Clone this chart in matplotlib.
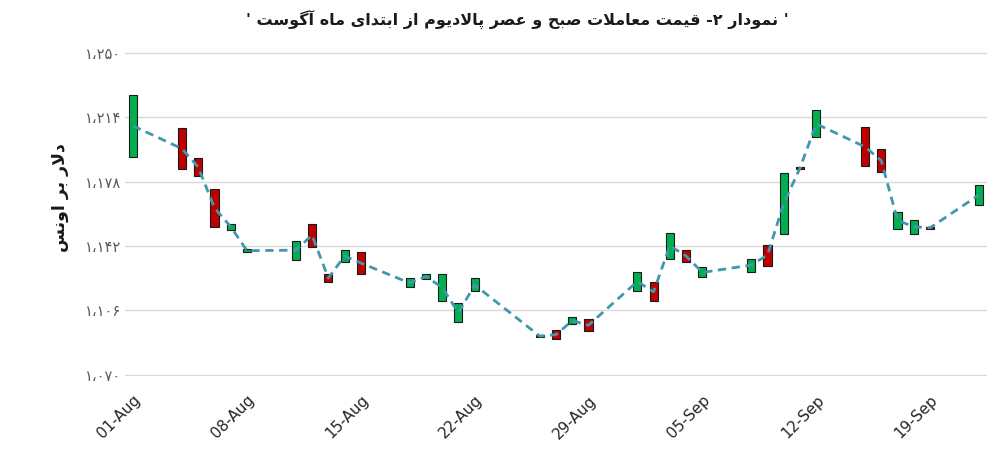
import matplotlib
matplotlib.use("Agg")
import matplotlib.pyplot as plt
import matplotlib.dates as mdates
import pandas as pd

# ---------------- data ----------------
dates = ["2014-08-01", "2014-08-04", "2014-08-05", "2014-08-06", "2014-08-07", "2014-08-08",
         "2014-08-11", "2014-08-12", "2014-08-13", "2014-08-14", "2014-08-15",
         "2014-08-18", "2014-08-19", "2014-08-20", "2014-08-21", "2014-08-22",
         "2014-08-26", "2014-08-27", "2014-08-28", "2014-08-29",
         "2014-09-01", "2014-09-02", "2014-09-03", "2014-09-04", "2014-09-05",
         "2014-09-08", "2014-09-09", "2014-09-10", "2014-09-11", "2014-09-12",
         "2014-09-15", "2014-09-16", "2014-09-17", "2014-09-18", "2014-09-19",
         "2014-09-22"]
morning = [1191.7, 1207.9, 1191.2, 1173.9, 1151.1, 1138.6,
           1134.4, 1154.5, 1126.6, 1132.8, 1138.9,
           1118.8, 1123.3, 1111.1, 1099.4, 1116.6,
           1092.0, 1094.9, 1098.3, 1101.0,
           1116.6, 1121.6, 1135.0, 1140.0, 1124.4,
           1127.7, 1142.8, 1148.9, 1186.2, 1202.9,
           1208.4, 1196.2, 1151.7, 1148.9, 1152.6,
           1165.0]
evening = [1226.8, 1185.1, 1181.2, 1152.8, 1154.5, 1140.2,
           1145.0, 1141.7, 1121.6, 1140.0, 1126.1,
           1123.9, 1126.6, 1126.6, 1109.9, 1123.9,
           1091.2, 1089.9, 1102.1, 1094.4,
           1127.7, 1111.1, 1149.4, 1132.8, 1130.0,
           1135.0, 1131.1, 1182.8, 1185.0, 1217.9,
           1186.7, 1183.4, 1161.1, 1156.7, 1151.8,
           1176.2]
y_ticks = [1070, 1106, 1142, 1178, 1214, 1250]
y_tick_labels = ["۱،۰۷۰", "۱،۱۰۶", "۱،۱۴۲", "۱،۱۷۸", "۱،۲۱۴", "۱،۲۵۰"]
x_tick_dates = ["2014-08-01", "2014-08-08", "2014-08-15", "2014-08-22",
                "2014-08-29", "2014-09-05", "2014-09-12", "2014-09-19"]

title_text = "' نمودار ۲- قیمت معاملات صبح و عصر پالادیوم از ابتدای ماه آگوست '"
ylabel_text = "دلار بر اونس"

# ---------------- persian shaping (matplotlib has no RTL support) ----------------
FORMS = {  # isolated, final, initial, medial
    "ا": ("\uFE8D", "\uFE8E", None, None),
    "آ": ("\uFE81", "\uFE82", None, None),
    "د": ("\uFEA9", "\uFEAA", None, None),
    "ر": ("\uFEAD", "\uFEAE", None, None),
    "ز": ("\uFEAF", "\uFEB0", None, None),
    "و": ("\uFEED", "\uFEEE", None, None),
    "ب": ("\uFE8F", "\uFE90", "\uFE91", "\uFE92"),
    "ت": ("\uFE95", "\uFE96", "\uFE97", "\uFE98"),
    "ح": ("\uFEA1", "\uFEA2", "\uFEA3", "\uFEA4"),
    "س": ("\uFEB1", "\uFEB2", "\uFEB3", "\uFEB4"),
    "ص": ("\uFEB9", "\uFEBA", "\uFEBB", "\uFEBC"),
    "ع": ("\uFEC9", "\uFECA", "\uFECB", "\uFECC"),
    "ق": ("\uFED5", "\uFED6", "\uFED7", "\uFED8"),
    "ل": ("\uFEDD", "\uFEDE", "\uFEDF", "\uFEE0"),
    "م": ("\uFEE1", "\uFEE2", "\uFEE3", "\uFEE4"),
    "ن": ("\uFEE5", "\uFEE6", "\uFEE7", "\uFEE8"),
    "ه": ("\uFEE9", "\uFEEA", "\uFEEB", "\uFEEC"),
    "ی": ("\uFBFC", "\uFBFD", "\uFBFE", "\uFBFF"),
    "پ": ("\uFB56", "\uFB57", "\uFB58", "\uFB59"),
    "گ": ("\uFB92", "\uFB93", "\uFB94", "\uFB95"),
}


def dual(c):
    return c in FORMS and FORMS[c][2] is not None


def shape_rtl(text):
    out = []
    i = 0
    while i < len(text):
        c = text[i]
        prev = text[i - 1] if i > 0 else ""
        nxt = text[i + 1] if i + 1 < len(text) else ""
        if c not in FORMS:
            out.append(c)
            i += 1
            continue
        joins_prev = dual(prev)
        if c == "ل" and nxt == "ا":
            out.append("\uFEFC" if joins_prev else "\uFEFB")
            i += 2
            continue
        joins_next = dual(c) and nxt in FORMS
        iso, fin, ini, med = FORMS[c]
        if joins_prev and joins_next:
            out.append(med)
        elif joins_prev:
            out.append(fin)
        elif joins_next:
            out.append(ini)
        else:
            out.append(iso)
        i += 1
    return "".join(out)[::-1]


# ---------------- plot ----------------
plt.rcParams["font.family"] = ["DejaVu Sans"]

x = pd.to_datetime(dates)
xn = mdates.date2num(x)
average = [(a + b) / 2 for a, b in zip(morning, evening)]

fig = plt.figure(figsize=(10, 4.67), dpi=100)
ax = fig.add_axes([0.125, 0.195, 0.862, 0.694])

for xi, am, pm in zip(xn, morning, evening):
    color = "#00B050" if pm >= am else "#C00000"
    low, high = min(am, pm), max(am, pm)
    ax.bar(xi, max(high - low, 0.8), bottom=low, width=0.5, color=color,
           edgecolor="#1a1a1a", linewidth=0.8, zorder=3)

ax.plot(xn, average, linestyle=(0, (3, 2)), color="#4197AC", linewidth=2, zorder=4)

ax.set_ylim(1069.3, 1250.7)
ax.set_yticks(y_ticks)
ax.set_yticklabels(y_tick_labels, color="#595959", fontsize=10.5)
ax.grid(axis="y", color="#D9D9D9", linewidth=1)
ax.set_axisbelow(True)

start = mdates.date2num(pd.Timestamp(dates[0]))
end = mdates.date2num(pd.Timestamp(dates[-1]))
ax.set_xlim(start - 0.5, end + 0.5)
xt = mdates.date2num(pd.to_datetime(x_tick_dates))
ax.set_xticks(xt)
ax.set_xticklabels(pd.to_datetime(x_tick_dates).strftime("%d-%b"), rotation=45,
                   ha="right", rotation_mode="anchor", fontsize=11, color="#262626")
ax.tick_params(axis="x", length=0, pad=12)
ax.tick_params(axis="y", length=0, pad=3)

for s in ax.spines.values():
    s.set_visible(False)

fig.text(0.517, 0.958, shape_rtl(title_text), ha="center", va="center",
         fontsize=11.5, fontweight="bold", color="#1a1a1a")
fig.text(0.06, 0.578, shape_rtl(ylabel_text), ha="center", va="center",
         rotation=90, fontsize=12.5, fontweight="bold", color="#1a1a1a")

fig.savefig("out.png", dpi=100)
